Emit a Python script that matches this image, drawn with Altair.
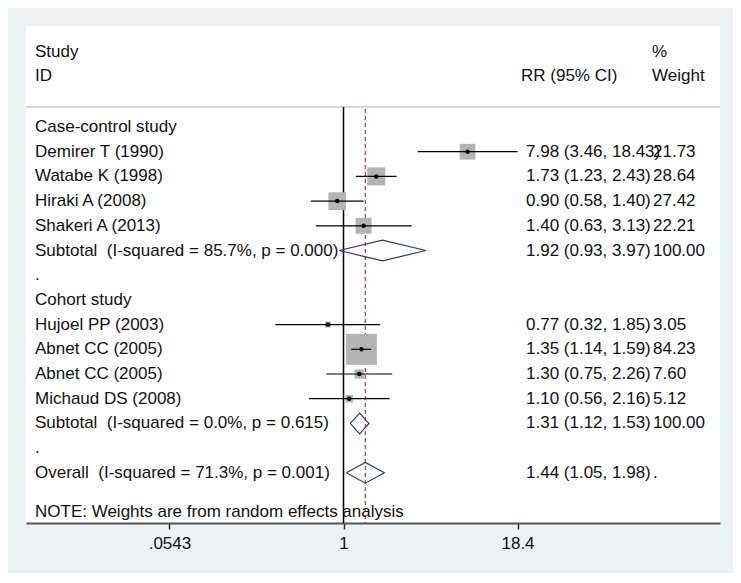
import math
import altair as alt
import pandas as pd

# ---------------- data ----------------
labels = ["Case-control study", "Demirer T (1990)", "Watabe K (1998)", "Hiraki A (2008)",
          "Shakeri A (2013)", "Subtotal  (I-squared = 85.7%, p = 0.000)", ".",
          "Cohort study", "Hujoel PP (2003)", "Abnet CC (2005)", "Abnet CC (2005)",
          "Michaud DS (2008)", "Subtotal  (I-squared = 0.0%, p = 0.615)", ".",
          "Overall  (I-squared = 71.3%, p = 0.001)"]
kinds = ["group", "study", "study", "study", "study", "sub", "blank",
         "group", "study", "study", "study", "study", "sub", "blank", "overall"]
rr = [None, 7.98, 1.73, 0.90, 1.40, 1.92, None, None, 0.77, 1.35, 1.30, 1.10, 1.31, None, 1.44]
lo = [None, 3.46, 1.23, 0.58, 0.63, 0.93, None, None, 0.32, 1.14, 0.75, 0.56, 1.12, None, 1.05]
hi = [None, 18.43, 2.43, 1.40, 3.13, 3.97, None, None, 1.85, 1.59, 2.26, 2.16, 1.53, None, 1.98]
weights = [None, 21.73, 28.64, 27.42, 22.21, 100.00, None, None, 3.05, 84.23, 7.60, 5.12, 100.00, None, None]

headers_left = ["Study", "ID"]
header_ci = "RR (95% CI)"
headers_weight = ["%", "Weight"]
note = "NOTE: Weights are from random effects analysis"

tick_values = [0.0543, 1, 18.4]
tick_labels = [".0543", "1", "18.4"]

# ---------------- layout constants ----------------
W, H = 694, 497
FONT = "Liberation Sans"
FS = 17
TXT = "#111111"
X_LABEL, X_CI, X_W, X_CI_HEAD = 9, 500, 627, 495
ROW_TOP, ROW_BOTTOM = -4.089, 16.032
LN_MIN, LN_MAX = -5.314, 6.301
xscale = alt.Scale(type="log", domain=[math.exp(LN_MIN), math.exp(LN_MAX)], nice=False, zero=False)
yscale = alt.Scale(domain=[ROW_TOP, ROW_BOTTOM], reverse=True, nice=False, zero=False)

rows = list(range(len(labels)))
df = pd.DataFrame({"row": rows, "label": labels, "kind": kinds, "rr": rr, "lo": lo,
                   "hi": hi, "w": weights})
# keep the double spaces visible in SVG
df["label_disp"] = [s.replace("  ", " \u00a0") for s in labels]


def fmt_ci(r, a, b):
    if r is None or pd.isna(r):
        return ""
    return f"{r:.2f} ({a:.2f}, {b:.2f})"


df["ci"] = [fmt_ci(r, a, b) for r, a, b in zip(rr, lo, hi)]
df["wt"] = ["" if (w is None or pd.isna(w)) else f"{w:.2f}" for w in weights]
df.loc[df.kind == "overall", "wt"] = "."

studies = df[df.kind == "study"]

# diamonds
dpts = []
HALF = 0.42
for _, r in df[df.kind.isin(["sub", "overall"])].iterrows():
    pts = [(r.lo, r.row), (r.rr, r.row - HALF), (r.hi, r.row), (r.rr, r.row + HALF), (r.lo, r.row)]
    for i, (x, y) in enumerate(pts):
        dpts.append({"id": int(r.row), "o": i, "x": x, "y": y})
ddf = pd.DataFrame(dpts)

overall = float(df[df.kind == "overall"].rr.iloc[0])

label_expr = ""
for v, l in zip(tick_values[:-1], tick_labels[:-1]):
    label_expr += f"abs(datum.value - {v}) < 1e-6 ? '{l}' : "
label_expr += f"'{tick_labels[-1]}'"

xaxis = alt.Axis(values=tick_values, labelExpr=label_expr, title=None, grid=False,
                 domainColor="#555555", domainWidth=2, tickColor="#333333", tickSize=6,
                 tickWidth=1.5, labelFontSize=FS, labelFont=FONT, labelColor=TXT,
                 labelPadding=6, labelFlush=False, labelOverlap=False)


def X(field, **kw):
    return alt.X(field, scale=xscale, axis=xaxis, **kw)


def Y(field):
    return alt.Y(field, scale=yscale, axis=None)


SEP_ROW = -0.81

null_line = alt.Chart(pd.DataFrame({"x": [1.0], "y": [SEP_ROW], "y2": [ROW_BOTTOM]})).mark_rule(
    color="#000000", strokeWidth=1.5).encode(x=X("x:Q"), y=Y("y:Q"), y2="y2:Q")

sep = alt.Chart(pd.DataFrame({"y": [SEP_ROW]})).mark_rule(color="#c8c8c8", strokeWidth=1.5).encode(
    x=alt.value(0), x2=alt.value(W), y=Y("y:Q"))

ov_line = alt.Chart(pd.DataFrame({"x": [overall], "y": [SEP_ROW + 0.08], "y2": [ROW_BOTTOM]})).mark_rule(
    color="#b03a48", strokeWidth=1.2, strokeDash=[4, 3]).encode(x=X("x:Q"), y=Y("y:Q"), y2="y2:Q")

boxes = alt.Chart(studies).mark_square(color="#b4b4b4", opacity=1, filled=True).encode(
    x=X("rr:Q"), y=Y("row:Q"),
    size=alt.Size("w:Q", scale=alt.Scale(type="linear", domain=[0, 100], range=[0, 1141]), legend=None),
)

ci = alt.Chart(studies).mark_rule(color="#000000", strokeWidth=1.2).encode(
    x=X("lo:Q"), x2="hi:Q", y=Y("row:Q"))

dots = alt.Chart(studies).mark_point(filled=True, color="#000000", size=20, opacity=1, shape="circle").encode(
    x=X("rr:Q"), y=Y("row:Q"))

diamonds = alt.Chart(ddf).mark_line(color="#33338f", strokeWidth=1.2).encode(
    x=X("x:Q"), y=Y("y:Q"), detail="id:N", order="o:Q")


def text_layer(data, field, xpix):
    return alt.Chart(data).mark_text(align="left", baseline="middle", font=FONT, fontSize=FS,
                                     color=TXT).encode(
        x=alt.value(xpix), y=Y("row:Q"), text=f"{field}:N")


lab_txt = text_layer(df, "label_disp", X_LABEL)
ci_txt = text_layer(df, "ci", X_CI)
wt_txt = text_layer(df, "wt", X_W)

hdr_rows = [-3.04, -2.06]
hdr_left = text_layer(pd.DataFrame({"row": hdr_rows, "t": headers_left}), "t", X_LABEL)
hdr_w = text_layer(pd.DataFrame({"row": hdr_rows, "t": headers_weight}), "t", X_W - 1)
hdr_ci = text_layer(pd.DataFrame({"row": [hdr_rows[1]], "t": [header_ci]}), "t", X_CI_HEAD)
note_txt = text_layer(pd.DataFrame({"row": [15.59], "t": [note]}), "t", X_LABEL)

chart = alt.layer(
    sep, null_line, ov_line, boxes, ci, dots, diamonds,
    lab_txt, ci_txt, wt_txt, hdr_left, hdr_w, hdr_ci, note_txt,
).properties(
    width=W, height=H,
    background="#eaf2f3",
    padding={"left": 18, "top": 18, "right": 13, "bottom": 50},
    autosize=alt.AutoSizeParams(type="none"),
).configure_view(stroke=None, fill="white")

chart.save("out.html", embed_options={"renderer": "svg", "actions": False})
